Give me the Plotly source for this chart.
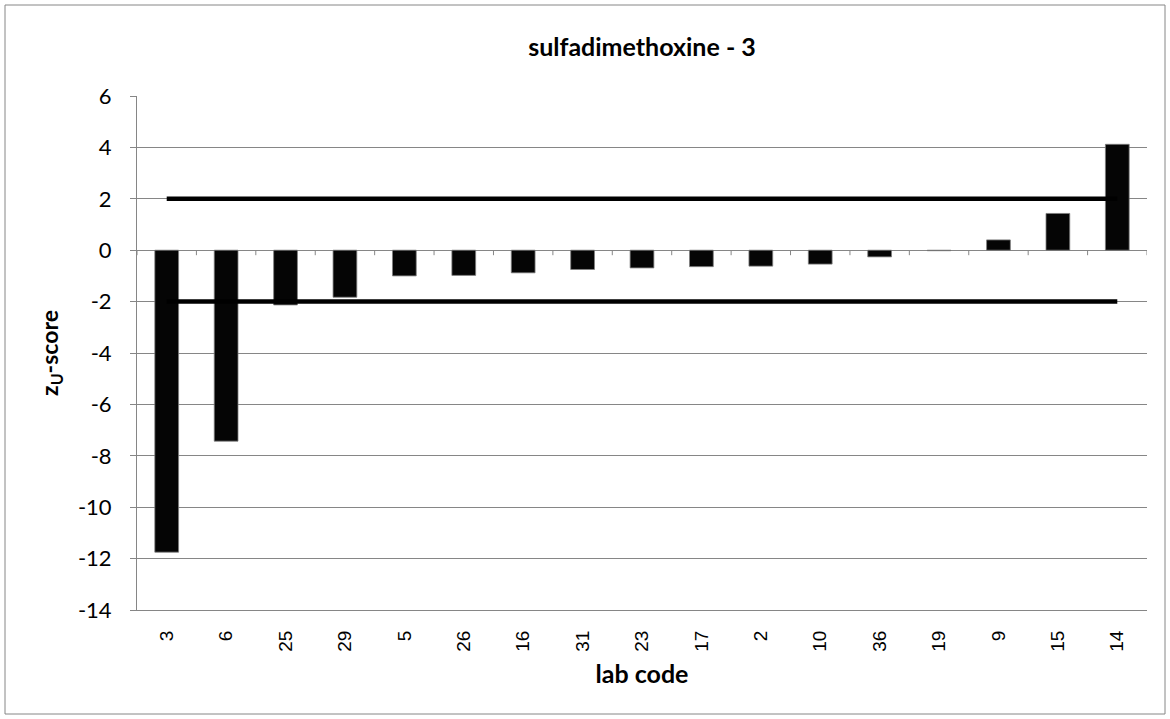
import plotly.graph_objects as go

lab_codes = ["3", "6", "25", "29", "5", "26", "16", "31", "23", "17", "2", "10", "36", "19", "9", "15", "14"]
z_scores = [-11.75, -7.43, -2.13, -1.83, -1.0, -0.98, -0.88, -0.75, -0.69, -0.64, -0.62, -0.54, -0.26, -0.02, 0.40, 1.43, 4.12]
limits = [2, -2]
y_tick_values = [-14, -12, -10, -8, -6, -4, -2, 0, 2, 4, 6]
y_tick_labels = ["-14", "-12", "-10", "-8", "-6", "-4", "-2", "0", "2", "4", "6"]

W, H = 1170, 719
L, R, T, B = 137, 23, 96, 109
pw, ph = W - L - R, H - T - B
GRID = "#868686"
SANS = "Lato, Liberation Sans, sans-serif"

n = len(lab_codes)
boundaries = [i - 0.5 for i in range(n + 1)]
ymin, ymax = y_tick_values[0], y_tick_values[-1]
xrange = [-0.5, n - 0.5]
tick_len_units = 5 / (ph / (ymax - ymin))  # 5 px downward tick marks on the zero axis

fig = go.Figure()
fig.add_trace(go.Bar(
    x=lab_codes, y=z_scores,
    marker=dict(color="#050505", line=dict(color="#7f7f7f", width=0.8)),
    showlegend=False,
))
for lim in limits:
    fig.add_trace(go.Scatter(
        x=lab_codes, y=[lim] * n, mode="lines",
        line=dict(color="black", width=4.5), showlegend=False,
    ))

# category-boundary tick marks hanging below the zero axis
fig.add_trace(go.Scatter(
    x=boundaries, y=[0] * len(boundaries), xaxis="x2", mode="markers",
    marker=dict(size=1, opacity=0),
    error_y=dict(type="data", symmetric=False, array=[0] * len(boundaries),
                 arrayminus=[tick_len_units] * len(boundaries),
                 color=GRID, thickness=1, width=0),
    cliponaxis=False, showlegend=False, hoverinfo="skip",
))

fig.update_layout(
    width=W, height=H,
    margin=dict(l=L, r=R, t=T, b=B, autoexpand=False),
    paper_bgcolor="white", plot_bgcolor="white",
    bargap=0.6,
    title=dict(text="<b>sulfadimethoxine - 3</b>", x=(L + pw / 2) / W, xanchor="center",
               y=1 - 47 / H, yanchor="middle",
               font=dict(family=SANS, size=25, color="black")),
    xaxis=dict(
        type="category", range=xrange, showgrid=False, showline=True, linecolor=GRID, linewidth=1,
        ticks="", tickangle=-90, ticklabelstandoff=12,
        tickfont=dict(family="Liberation Sans, Arial, sans-serif", size=19, color="black"),
        title=dict(text="<b>lab code</b>", standoff=14,
                   font=dict(family=SANS, size=25, color="black")),
    ),
    xaxis2=dict(type="linear", overlaying="x", range=xrange, visible=False),
    yaxis=dict(
        range=[ymin, ymax], tickvals=y_tick_values, ticktext=y_tick_labels,
        showgrid=True, gridcolor=GRID, gridwidth=1,
        zeroline=False, showline=True, linecolor=GRID, linewidth=1,
        ticks="outside", ticklen=6, tickcolor=GRID, ticklabelstandoff=14,
        tickfont=dict(family=SANS, size=22, color="black"),
        title=dict(text="<b>z<sub>U</sub>-score</b>", standoff=12,
                   font=dict(family=SANS, size=23, color="black")),
    ),
    shapes=[dict(type="rect", xref="paper", yref="paper",
                 x0=(5 - L) / pw, x1=(1165 - L) / pw,
                 y0=-(714 - T - ph) / ph, y1=1 + (T - 5) / ph,
                 line=dict(color=GRID, width=1), layer="below")],
)

fig.write_html("out.html", config={"displayModeBar": False},
               post_script="document.body.style.margin='0px';")
